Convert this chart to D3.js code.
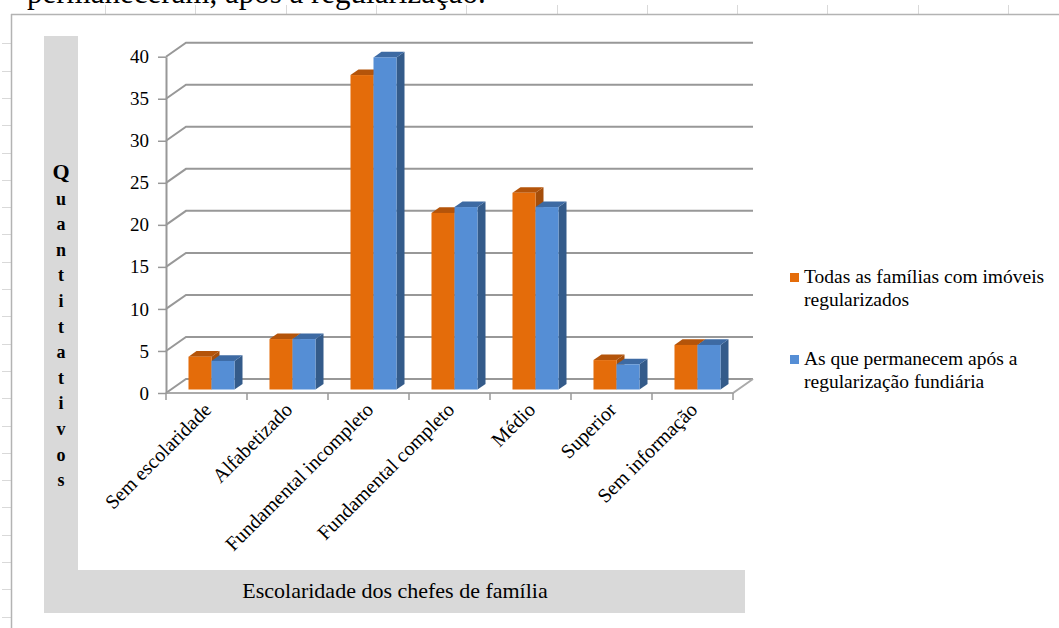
<!DOCTYPE html>
<html>
<head>
<meta charset="utf-8">
<script src="https://cdn.jsdelivr.net/npm/d3@7"></script>
<style>
  body { margin: 0; background: #fff; }
  svg { display: block; font-family: "Liberation Serif", "Times New Roman", serif; }
</style>
</head>
<body>
<div id="chart"></div>
<script>
// categories and values
var categories = ["Sem escolaridade", "Alfabetizado", "Fundamental incompleto",
    "Fundamental completo", "Médio", "Superior", "Sem informação"];
var todas = [3.9, 6.0, 37.4, 21.0, 23.4, 3.5, 5.3];
var permanecem = [3.4, 6.0, 39.5, 21.7, 21.7, 3.0, 5.3];
var legendTodas = ["Todas as famílias com imóveis", "regularizados"];
var legendPermanecem = ["As que permanecem após a", "regularização fundiária"];
var yTicks = [0, 5, 10, 15, 20, 25, 30, 35, 40];
var yTitle = "Quantitativos";
var xTitle = "Escolaridade dos chefes de família";
var topText = "permaneceram, após a regularização.";

var width = 1059,
    height = 628;

var svg = d3.select("#chart")
    .append("svg")
    .attr("width", width)
    .attr("height", height);

// spreadsheet background bits
svg.append("text")
    .attr("x", 27).attr("y", 3)
    .attr("font-size", 31)
    .attr("fill", "#000")
    .text(topText);

var sheet = svg.append("g").attr("stroke", "#d9d9d9").attr("stroke-width", 1);
d3.range(11).forEach(function (k) {
    var xx = Math.round(105 + 90.3 * k) + 0.5;
    sheet.append("line").attr("x1", xx).attr("x2", xx).attr("y1", 5).attr("y2", 14);
});
d3.range(22).forEach(function (k) {
    var yy = Math.round(43.3 + 27.3 * k) + 0.5;
    sheet.append("line").attr("x1", 2).attr("x2", 11).attr("y1", yy).attr("y2", yy);
});
svg.append("line").attr("x1", 11).attr("x2", width).attr("y1", 14.5).attr("y2", 14.5)
    .attr("stroke", "#b3b3b3").attr("stroke-width", 1.5);
svg.append("line").attr("x1", 11.5).attr("x2", 11.5).attr("y1", 14).attr("y2", height)
    .attr("stroke", "#b3b3b3").attr("stroke-width", 1.5);

// grey L-shaped title bands
svg.append("rect").attr("x", 44).attr("y", 36).attr("width", 34).attr("height", 577).attr("fill", "#d9d9d9");
svg.append("rect").attr("x", 44).attr("y", 570).attr("width", 701).attr("height", 43).attr("fill", "#d9d9d9");

// scales
var x = d3.scaleBand().domain(categories).range([166, 733]);
var y = d3.scaleLinear().domain([0, 40]).range([393, 56.7]);
var DX = 20, DY = -14; // full depth offset
var dFront = 0.25, dBack = 0.65;
var xs = d3.scaleBand().domain(["todas", "permanecem"])
    .range([0, x.bandwidth()]).paddingOuter(0.76).paddingInner(0);

function P(px, v, d) {
    return [px + d * DX, y(v) + d * DY];
}

// walls
var grid = svg.append("g").attr("stroke", "#989898").attr("stroke-width", 2).attr("fill", "none");
yTicks.forEach(function (v) {
    var a = P(166, v, 0), b = P(166, v, 1), c = P(733, v, 1);
    grid.append("path").attr("d", d3.line()([a, b, c]));
});
// floor
var f1 = P(166, 0, 0), f2 = P(733, 0, 0), f3 = P(733, 0, 1);
grid.append("path").attr("d", d3.line()([f1, f2, f3])).attr("stroke", "#aaaaaa");

// y axis
var yAxis = svg.append("g")
    .attr("transform", "translate(166,0)")
    .call(d3.axisLeft(y).tickValues(yTicks).tickSize(8).tickSizeOuter(0).tickPadding(9));
yAxis.select(".domain").attr("stroke", "#989898").attr("stroke-width", 2);
yAxis.selectAll(".tick line").attr("stroke", "#989898").attr("stroke-width", 1.5);
yAxis.selectAll(".tick text")
    .attr("font-family", "Liberation Serif, serif")
    .attr("font-size", 19)
    .attr("fill", "#000");

// category ticks
var edges = categories.map(function (c) { return x(c); }).concat([x.range()[1]]);
svg.append("g").selectAll("line")
    .data(edges)
    .enter()
    .append("line")
    .attr("x1", function (d) { return d; })
    .attr("x2", function (d) { return d; })
    .attr("y1", 393)
    .attr("y2", 400)
    .attr("stroke", "#989898")
    .attr("stroke-width", 1.5);

// bars
var colors = {
    todas: {front: "#E46C0A", top: "#B4540A", side: "#A54E0A"},
    permanecem: {front: "#558ED5", top: "#3D6AA3", side: "#345B8A"}
};
var rows = [];
categories.forEach(function (c, i) {
    rows.push({cat: c, key: "todas", v: todas[i]});
    rows.push({cat: c, key: "permanecem", v: permanecem[i]});
});

var bars = svg.append("g");
rows.forEach(function (r) {
    var x0 = x(r.cat) + xs(r.key), x1 = x0 + xs.bandwidth();
    var col = colors[r.key];
    var g = bars.append("g");
    // side face
    g.append("path")
        .attr("d", d3.line()([P(x1, 0, dFront), P(x1, r.v, dFront), P(x1, r.v, dBack), P(x1, 0, dBack)]) + "Z")
        .attr("fill", col.side);
    // top face
    g.append("path")
        .attr("d", d3.line()([P(x0, r.v, dFront), P(x1, r.v, dFront), P(x1, r.v, dBack), P(x0, r.v, dBack)]) + "Z")
        .attr("fill", col.top);
    // front face
    var a = P(x0, r.v, dFront), b = P(x1, 0, dFront);
    g.append("rect")
        .attr("x", a[0]).attr("y", a[1])
        .attr("width", b[0] - a[0]).attr("height", b[1] - a[1])
        .attr("fill", col.front);
});

// category labels
svg.append("g").selectAll("text")
    .data(categories)
    .enter()
    .append("text")
    .attr("transform", function (d) {
        return "translate(" + (x(d) + x.bandwidth() / 2 + 6) + ",411) rotate(-45)";
    })
    .attr("text-anchor", "end")
    .attr("font-size", 20)
    .attr("fill", "#000")
    .text(function (d) { return d; });

// y title, stacked letters
svg.append("g").selectAll("text")
    .data(yTitle.split(""))
    .enter()
    .append("text")
    .attr("x", 61)
    .attr("y", function (d, i) { return 172 + i * 25.6 + 7; })
    .attr("text-anchor", "middle")
    .attr("font-weight", "bold")
    .attr("font-size", function (d, i) { return i === 0 ? 22 : 18; })
    .attr("fill", "#000")
    .text(function (d) { return d; });

// x title
svg.append("text")
    .attr("x", 395).attr("y", 598)
    .attr("text-anchor", "middle")
    .attr("font-size", 22)
    .attr("fill", "#000")
    .text(xTitle);

// legend
var legend = [
    {lines: legendTodas, color: colors.todas.front, y: 283},
    {lines: legendPermanecem, color: colors.permanecem.front, y: 365}
];
legend.forEach(function (l) {
    svg.append("rect")
        .attr("x", 790).attr("y", l.y - 10)
        .attr("width", 9).attr("height", 9)
        .attr("fill", l.color);
    l.lines.forEach(function (t, i) {
        svg.append("text")
            .attr("x", 804).attr("y", l.y + i * 23)
            .attr("font-size", 19.5)
            .attr("fill", "#000")
            .text(t);
    });
});
</script>
</body>
</html>
